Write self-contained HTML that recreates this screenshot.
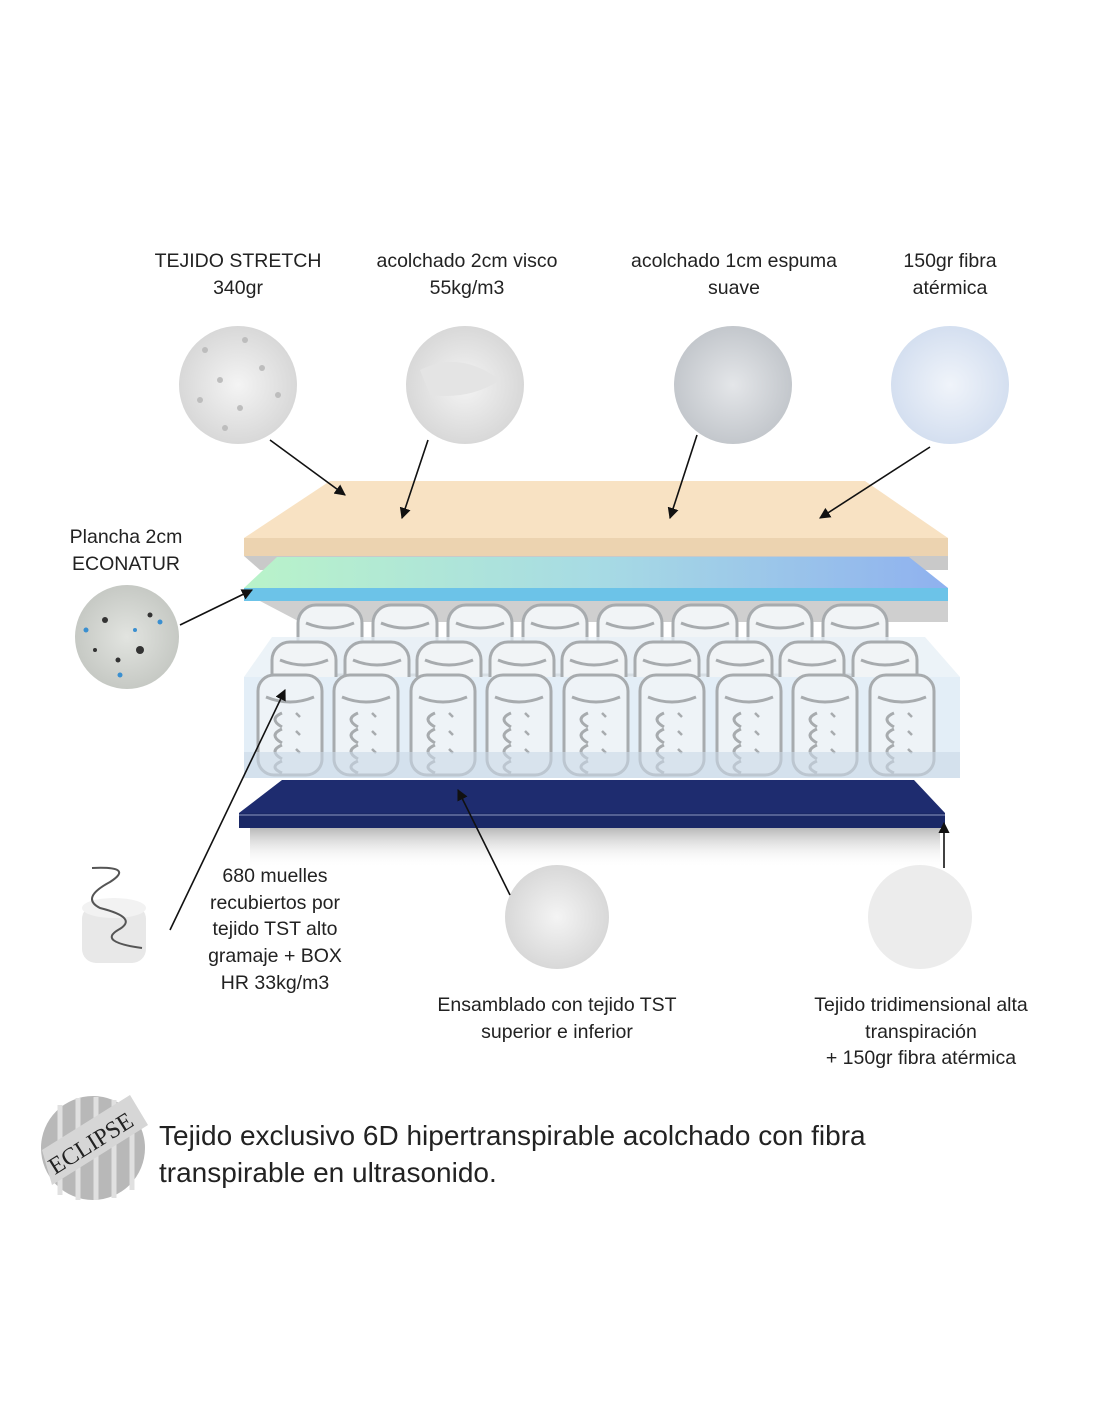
<!DOCTYPE html>
<html><head><meta charset="utf-8"><style>
html,body{margin:0;padding:0;background:#fff}
body{width:1100px;height:1422px;position:relative;overflow:hidden;font-family:"Liberation Sans","DejaVu Sans",sans-serif;color:#222}
.t{position:absolute;text-align:center;font-size:19.5px;line-height:26.7px;white-space:nowrap;transform:translateX(-50%)}
.big{position:absolute;left:159px;top:1117px;font-size:28px;line-height:37px;color:#222;white-space:nowrap}
</style></head><body>
<svg width="1100" height="1422" style="position:absolute;left:0;top:0">
<defs>
<linearGradient id="gl" x1="0" x2="1" y1="0" y2="0"><stop offset="0" stop-color="#b9f3c9"/><stop offset="0.5" stop-color="#a7dbe4"/><stop offset="1" stop-color="#8fb1ef"/></linearGradient>
<linearGradient id="sh" x1="0" x2="0" y1="0" y2="1"><stop offset="0" stop-color="#9a9a9a" stop-opacity=".7"/><stop offset="1" stop-color="#fff" stop-opacity="0"/></linearGradient>
<radialGradient id="c1"><stop offset="0" stop-color="#f4f4f4"/><stop offset="1" stop-color="#d8d8d8"/></radialGradient>
<radialGradient id="c3"><stop offset="0" stop-color="#e4e6e9"/><stop offset="1" stop-color="#c3c7cc"/></radialGradient>
<radialGradient id="c4"><stop offset="0" stop-color="#f0f4fa"/><stop offset="1" stop-color="#d4dff0"/></radialGradient>
<radialGradient id="c5"><stop offset="0" stop-color="#e2e4e0"/><stop offset="1" stop-color="#c6c9c4"/></radialGradient>
<marker id="ah" viewBox="0 0 10 10" refX="9" refY="5" markerWidth="7" markerHeight="7" orient="auto"><path d="M0,0 L10,5 L0,10 z" fill="#111"/></marker>
<g id="sf">
<rect x="2" y="2" width="64" height="100" rx="16" fill="#eef3f7" stroke="#a7abae" stroke-width="3"/>
<path d="M10,24 Q34,34 58,24" fill="none" stroke="#a7abae" stroke-width="3"/>
<path d="M26,40 Q12,46 26,54 M26,56 Q12,62 26,70 M26,72 Q12,78 26,86 M26,88 Q12,94 26,100" fill="none" stroke="#a7abae" stroke-width="3"/>
<path d="M40,40 l4,4 M40,58 l4,4 M40,76 l4,4" stroke="#a7abae" stroke-width="2.5"/>
</g>
<g id="sm">
<rect x="2" y="2" width="64" height="70" rx="18" fill="#f1f4f6" stroke="#a7abae" stroke-width="3"/>
<path d="M10,20 Q34,30 58,20" fill="none" stroke="#a7abae" stroke-width="3"/>
</g>
</defs>

<circle cx="238" cy="385" r="59" fill="url(#c1)"/>
<g fill="#bdbdbd"><circle cx="205" cy="350" r="3"/><circle cx="245" cy="340" r="3"/><circle cx="220" cy="380" r="3"/><circle cx="262" cy="368" r="3"/><circle cx="200" cy="400" r="3"/><circle cx="240" cy="408" r="3"/><circle cx="278" cy="395" r="3"/><circle cx="225" cy="428" r="3"/></g>
<circle cx="465" cy="385" r="59" fill="url(#c1)"/>
<path d="M420,370 Q460,350 500,380 Q470,400 430,395" fill="#e4e4e4"/>
<circle cx="733" cy="385" r="59" fill="url(#c3)"/>
<circle cx="950" cy="385" r="59" fill="url(#c4)"/>

<circle cx="127" cy="637" r="52" fill="url(#c5)"/>
<g fill="#333"><circle cx="105" cy="620" r="3"/><circle cx="140" cy="650" r="4"/><circle cx="118" cy="660" r="2.5"/><circle cx="150" cy="615" r="2.5"/><circle cx="95" cy="650" r="2"/></g>
<g fill="#3a8fd0"><circle cx="86" cy="630" r="2.5"/><circle cx="160" cy="622" r="2.5"/><circle cx="120" cy="675" r="2.5"/><circle cx="135" cy="630" r="2"/></g>

<polygon points="244,556 948,556 948,570 260,570" fill="#c9c9c9"/>
<polygon points="330,481 865,481 948,538 244,538" fill="#f8e2c3"/>
<rect x="244" y="538" width="704" height="18" fill="#ecd3b0"/>

<polygon points="260,601 948,601 948,622 300,622" fill="#cfcfcf"/>
<polygon points="277,557 909,557 948,588 244,588" fill="url(#gl)"/>
<rect x="244" y="588" width="704" height="13" fill="#6cc3e8"/>

<g transform="translate(0,603)">
<use href="#sm" x="296"/><use href="#sm" x="371"/><use href="#sm" x="446"/><use href="#sm" x="521"/><use href="#sm" x="596"/><use href="#sm" x="671"/><use href="#sm" x="746"/><use href="#sm" x="821"/>
</g>
<polygon points="272,637 925,637 960,677 244,677" fill="#e6eff6" opacity=".75"/>
<g transform="translate(0,640)">
<use href="#sm" x="270"/><use href="#sm" x="343"/><use href="#sm" x="415"/><use href="#sm" x="488"/><use href="#sm" x="560"/><use href="#sm" x="633"/><use href="#sm" x="706"/><use href="#sm" x="778"/><use href="#sm" x="851"/>
</g>
<rect x="244" y="677" width="716" height="101" fill="#e3eef7"/>
<g transform="translate(0,673)">
<use href="#sf" x="256"/><use href="#sf" x="332"/><use href="#sf" x="409"/><use href="#sf" x="485"/><use href="#sf" x="562"/><use href="#sf" x="638"/><use href="#sf" x="715"/><use href="#sf" x="791"/><use href="#sf" x="868"/>
</g>
<rect x="244" y="752" width="716" height="26" fill="#c9d8e6" opacity=".6"/>

<rect x="250" y="828" width="690" height="40" fill="url(#sh)"/>
<polygon points="282,780 914,780 945,813 239,813" fill="#1e2c6f"/>
<rect x="239" y="813" width="706" height="15" fill="#1a2866"/>
<line x1="239" y1="815" x2="945" y2="815" stroke="#8d97c0" stroke-width="1"/>

<rect x="82" y="905" width="64" height="58" rx="14" fill="#e8e8e8"/>
<ellipse cx="114" cy="908" rx="32" ry="10" fill="#f2f2f2"/>
<path d="M92,868 Q135,866 110,882 Q80,898 100,908 Q140,918 118,930 Q98,942 142,948" fill="none" stroke="#555" stroke-width="2"/>
<circle cx="557" cy="917" r="52" fill="url(#c1)"/>
<circle cx="920" cy="917" r="52" fill="#ececec"/>

<circle cx="93" cy="1148" r="52" fill="#b8b8b8"/>
<g stroke="#e0e0e0" stroke-width="5"><line x1="60" y1="1105" x2="60" y2="1195"/><line x1="78" y1="1098" x2="78" y2="1200"/><line x1="96" y1="1097" x2="96" y2="1200"/><line x1="114" y1="1100" x2="114" y2="1198"/><line x1="132" y1="1110" x2="132" y2="1190"/></g>
<polygon points="42,1150 130,1095 148,1125 52,1185" fill="#d6d6d6"/>
<text x="95" y="1150" transform="rotate(-32 95 1150)" text-anchor="middle" font-family="Liberation Serif,serif" font-size="24" fill="#222">ECLIPSE</text>

<g stroke="#111" stroke-width="1.6" fill="none" marker-end="url(#ah)">
<line x1="270" y1="440" x2="345" y2="495"/>
<line x1="428" y1="440" x2="402" y2="518"/>
<line x1="697" y1="435" x2="670" y2="518"/>
<line x1="930" y1="447" x2="820" y2="518"/>
<line x1="180" y1="625" x2="252" y2="590"/>
<line x1="170" y1="930" x2="285" y2="690"/>
<line x1="510" y1="895" x2="458" y2="790"/>
<line x1="944" y1="868" x2="944" y2="823"/>
</g>
</svg>

<div class="t" style="left:238px;top:248px">TEJIDO STRETCH<br>340gr</div>
<div class="t" style="left:467px;top:248px">acolchado 2cm visco<br>55kg/m3</div>
<div class="t" style="left:734px;top:248px">acolchado 1cm espuma<br>suave</div>
<div class="t" style="left:950px;top:248px">150gr fibra<br>atérmica</div>
<div class="t" style="left:126px;top:524px">Plancha 2cm<br>ECONATUR</div>
<div class="t" style="left:275px;top:863px">680 muelles<br>recubiertos por<br>tejido TST alto<br>gramaje + BOX<br>HR 33kg/m3</div>
<div class="t" style="left:557px;top:992px">Ensamblado con tejido TST<br>superior e inferior</div>
<div class="t" style="left:921px;top:992px">Tejido tridimensional alta<br>transpiración<br>+ 150gr fibra atérmica</div>
<div class="big">Tejido exclusivo 6D hipertranspirable acolchado con fibra<br>transpirable en ultrasonido.</div>
</body></html>
